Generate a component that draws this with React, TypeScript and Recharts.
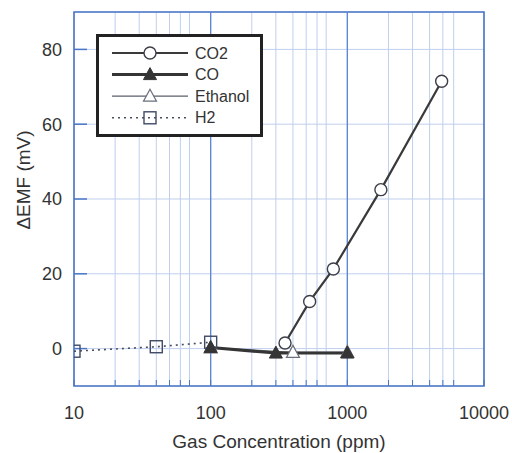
import {
  LineChart,
  Line,
  XAxis,
  YAxis,
  CartesianGrid,
  ReferenceLine,
  ReferenceArea,
} from "recharts";

// values
const co2X = [350, 530, 790, 1760, 4900];
const co2Y = [1.5, 12.6, 21.3, 42.5, 71.5];
const coX = [100, 300, 1000];
const coY = [0.3, -1.2, -1.2];
const ethanolX = [100, 400, 1000];
const ethanolY = [0.2, -1.0, -1.0];
const h2X = [10, 40, 100];
const h2Y = [-0.7, 0.5, 1.7];

const decadeTicks = [10, 100, 1000, 10000];
const minorSteps = [1, 2, 3, 4, 5, 6, 7, 8, 9];
const yTicks = [0, 20, 40, 60, 80];

const xTicks = decadeTicks
  .slice(0, 3)
  .flatMap((d) => minorSteps.map((m) => d * m))
  .concat([10000]);

const toPoints = (xs: number[], ys: number[]) =>
  xs.map((x, i) => ({ x, y: ys[i] }));

const FONT = "'Liberation Sans', Arial, sans-serif";
const INK = "#333";
const FRAME = "#4a76c6";
const GRID = "#bfcfee";

type Kind = "circle" | "tri" | "otri" | "square";

function Marker({ kind, cx, cy }: { kind: Kind; cx: number; cy: number }) {
  if (kind === "circle")
    return <circle cx={cx} cy={cy} r={6} fill="#fff" stroke="#3c3f48" strokeWidth={1.4} />;
  if (kind === "tri")
    return (
      <polygon
        points={`${cx},${cy - 7} ${cx + 6.5},${cy + 5} ${cx - 6.5},${cy + 5}`}
        fill="#353535"
        stroke="#353535"
      />
    );
  if (kind === "otri")
    return (
      <polygon
        points={`${cx},${cy - 7} ${cx + 6.5},${cy + 5} ${cx - 6.5},${cy + 5}`}
        fill="#fff"
        stroke="#6a6f7a"
        strokeWidth={1.2}
      />
    );
  return (
    <rect x={cx - 6} y={cy - 6} width={12} height={12} fill="none" stroke="#3f4a66" strokeWidth={1.4} />
  );
}

const series = [
  { name: "H2", data: toPoints(h2X, h2Y), kind: "square" as Kind, color: "#4a4f5e", width: 1.6, dash: "2 4" },
  { name: "Ethanol", data: toPoints(ethanolX, ethanolY), kind: "otri" as Kind, color: "#5a5f6a", width: 1.2, dash: undefined },
  { name: "CO", data: toPoints(coX, coY), kind: "tri" as Kind, color: "#353535", width: 3, dash: undefined },
  { name: "CO2", data: toPoints(co2X, co2Y), kind: "circle" as Kind, color: "#3a3a3a", width: 2.2, dash: undefined },
];

const legendOrder = ["CO2", "CO", "Ethanol", "H2"];

function LegendBox() {
  const rows = legendOrder.map((n) => series.find((s) => s.name === n)!);
  return (
    <div style={{ position: "absolute", left: 96, top: 34 }}>
      <svg width={168} height={104} style={{ display: "block" }}>
        <rect x={1.5} y={1.5} width={164} height={100} fill="#fff" stroke="#222" strokeWidth={3} />
        {rows.map((s, i) => {
          const y = 19 + i * 21.6;
          return (
            <g key={s.name}>
              <line x1={16} x2={92} y1={y} y2={y} stroke={s.color} strokeWidth={s.width} strokeDasharray={s.dash} />
              <Marker kind={s.kind} cx={54} cy={y} />
              <text x={99} y={y} dominantBaseline="central" fontSize={16} fontFamily={FONT} fill={INK}>
                {s.name}
              </text>
            </g>
          );
        })}
      </svg>
    </div>
  );
}

export default function App() {
  return (
    <div style={{ position: "relative", width: 512, height: 453, background: "#fff" }}>
      <style>{`body{margin:0;overflow:hidden}`}</style>
      <LineChart width={512} height={453} margin={{ top: 12, right: 28, left: 0, bottom: 0 }}>
        <CartesianGrid stroke={GRID} strokeWidth={1} />
        <XAxis
          dataKey="x"
          type="number"
          scale="log"
          domain={[10, 10000]}
          ticks={xTicks}
          allowDataOverflow
          height={67}
          axisLine={false}
          tickSize={-6}
          tickMargin={26}
          tickLine={{ stroke: FRAME }}
          tickFormatter={(v: number) => (decadeTicks.includes(v) ? String(v) : "")}
          tick={{ fontSize: 18, fill: INK, fontFamily: FONT }}
          label={() => (
            <text x={279} y={441} textAnchor="middle" dominantBaseline="central" fontSize={19} fontFamily={FONT} fill={INK}>
              Gas Concentration (ppm)
            </text>
          )}
        />
        <YAxis
          type="number"
          domain={[-10, 90]}
          ticks={yTicks}
          allowDataOverflow
          width={74}
          axisLine={false}
          tickSize={-13}
          tickMargin={25}
          tickLine={{ stroke: FRAME, strokeWidth: 1.5 }}
          tick={{ fontSize: 18, fill: INK, fontFamily: FONT }}
          label={() => (
            <text
              x={23}
              y={180}
              transform="rotate(-90 23 180)"
              textAnchor="middle"
              dominantBaseline="central"
              fontSize={19}
              fontFamily={FONT}
              fill={INK}
            >
              ΔEMF (mV)
            </text>
          )}
        />
        <YAxis
          yAxisId="r"
          orientation="right"
          type="number"
          domain={[-10, 90]}
          ticks={yTicks}
          width={0}
          axisLine={false}
          tickSize={-13}
          tickLine={{ stroke: FRAME, strokeWidth: 1.5 }}
          tickFormatter={() => ""}
        />
        {decadeTicks.slice(1, 3).map((d) => (
          <ReferenceLine key={d} x={d} stroke="#5c86d0" strokeWidth={1.3} />
        ))}
        <ReferenceArea x1={10} x2={10000} y1={-10} y2={90} fill="none" stroke={FRAME} strokeWidth={1.6} />
        {series.map((s) => (
          <Line
            key={s.name}
            data={s.data}
            dataKey="y"
            name={s.name}
            type="linear"
            stroke={s.color}
            strokeWidth={s.width}
            strokeDasharray={s.dash}
            isAnimationActive={false}
            dot={(p: any) => <Marker key={`${s.name}-${p.index}`} kind={s.kind} cx={p.cx} cy={p.cy} />}
            activeDot={false}
          />
        ))}
      </LineChart>
      <LegendBox />
    </div>
  );
}
